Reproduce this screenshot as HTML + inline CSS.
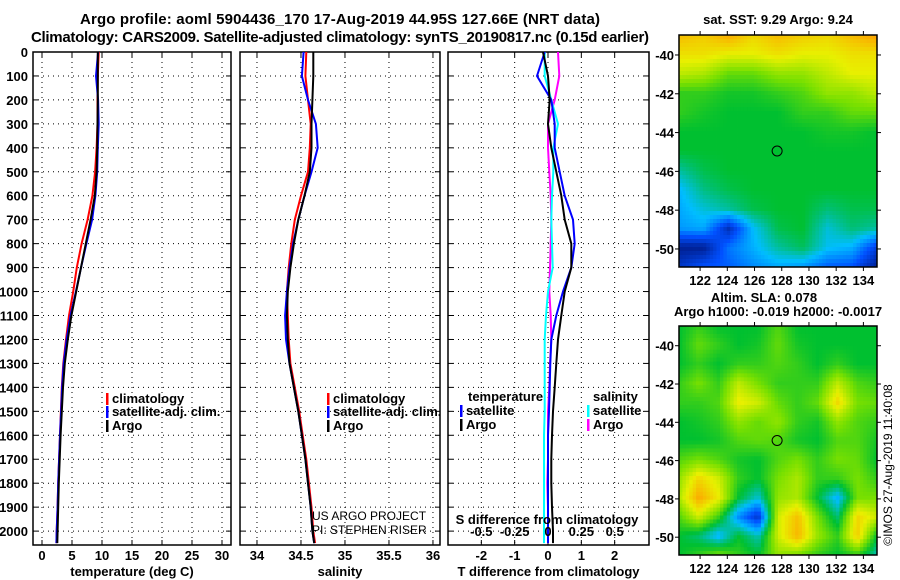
<!DOCTYPE html>
<html><head><meta charset="utf-8">
<style>
body{margin:0;background:#fff;}
svg{display:block;font-family:"Liberation Sans",sans-serif;}
.b{font-weight:bold;font-size:13px;}
</style></head>
<body>
<svg id="s" width="900" height="580" viewBox="0 0 900 580" xmlns="http://www.w3.org/2000/svg">
<rect width="900" height="580" fill="#fff"/>
<text x="340" y="24" text-anchor="middle" class="b" style="font-size:15px" textLength="520">Argo profile: aoml 5904436_170 17-Aug-2019 44.95S 127.66E (NRT data)</text>
<text x="340" y="42" text-anchor="middle" class="b" style="font-size:15px" textLength="618">Climatology: CARS2009. Satellite-adjusted climatology: synTS_20190817.nc (0.15d earlier)</text>
<g id="g"></g>
<text x="778" y="24" text-anchor="middle" class="b">sat. SST: 9.29 Argo: 9.24</text>
<text x="764" y="302" text-anchor="middle" class="b">Altim. SLA: 0.078</text>
<text x="778" y="316" text-anchor="middle" class="b">Argo h1000: -0.019 h2000: -0.0017</text>
<text transform="translate(892,465) rotate(-90)" text-anchor="middle" style="font-size:12px">©IMOS 27-Aug-2019 11:40:08</text>
<text x="312" y="520" style="font-size:12px">US ARGO PROJECT</text>
<text x="312" y="534" style="font-size:12px">PI: STEPHEN RISER</text>
</svg>
<script>
// ---- data ----
const depth=[0,100,200,300,400,500,600,700,800,900,1000,1100,1200,1300,1400,1500,1600,1700,1800,1900,2000,2050];
const tempArgo=[9.3,9.3,9.3,9.25,9.2,9.1,8.8,8.1,7.3,6.5,5.7,4.9,4.3,3.8,3.5,3.3,3.1,2.95,2.8,2.7,2.6,2.55];
const tempClim=[9.45,9.3,9.25,9.25,9.1,8.85,8.4,7.6,6.6,5.8,5.2,4.5,4.0,3.55,3.3,3.15,3.0,2.85,2.7,2.6,2.45,2.4];
const tempSat=[9.35,9.0,9.35,9.45,9.3,9.2,8.9,8.35,7.4,6.5,5.65,4.75,4.1,3.62,3.35,3.18,3.0,2.85,2.7,2.6,2.45,2.4];
const salArgo=[34.64,34.64,34.63,34.62,34.62,34.6,34.54,34.47,34.42,34.38,34.35,34.34,34.35,34.37,34.42,34.47,34.51,34.55,34.58,34.61,34.63,34.65];
const salClim=[34.56,34.55,34.58,34.61,34.6,34.58,34.5,34.43,34.39,34.36,34.34,34.35,34.36,34.38,34.43,34.48,34.52,34.56,34.59,34.62,34.64,34.66];
const salSat=[34.53,34.51,34.58,34.67,34.69,34.62,34.54,34.47,34.41,34.37,34.34,34.32,34.33,34.37,34.42,34.47,34.51,34.55,34.58,34.61,34.63,34.65];
const dTArgo=[-0.15,0.0,0.05,0.0,0.1,0.25,0.4,0.5,0.7,0.7,0.5,0.4,0.3,0.25,0.2,0.15,0.12,0.1,0.1,0.12,0.15,0.15];
const dTSat=[-0.1,-0.33,0.1,0.2,0.2,0.35,0.5,0.75,0.8,0.7,0.45,0.25,0.1,0.07,0.05,0.03,0.0,0.0,0.0,0.0,0.0,0.0];
const dSArgo=[0.075,0.085,0.05,0.0,0.0,0.01,0.02,0.025,0.02,0.015,0.01,0.02,0.025,0.015,0.01,0.0,0.0,0.0,-0.005,0.0,0.0,0.0];
const dSSat=[-0.025,-0.025,0.025,0.075,0.04,0.04,0.03,0.025,0.03,0.035,0.0,-0.015,-0.025,-0.025,-0.025,-0.025,-0.03,-0.03,-0.03,-0.03,-0.03,-0.03];
const depthTicks=[0,100,200,300,400,500,600,700,800,900,1000,1100,1200,1300,1400,1500,1600,1700,1800,1900,2000];
const tempTicks=[0,5,10,15,20,25,30];
const salTicks=[34,34.5,35,35.5,36];
const dTTicks=[-2,-1,0,1,2];
const dSTicks=[-0.5,-0.25,0,0.25,0.5];
const lonTicks=[122,124,126,128,130,132,134];
const latTicks=[-40,-42,-44,-46,-48,-50];
// SST map coarse grid, normalised 0..1 (rows lat -39..-51, cols lon 120.5..135)
const sstGrid=[
[.85,.82,.88,.8,.85,.82,.8,.85,.9],
[.78,.78,.75,.75,.78,.75,.75,.78,.78],
[.7,.68,.6,.6,.65,.65,.7,.75,.75],
[.55,.55,.52,.52,.55,.58,.65,.65,.7],
[.55,.52,.5,.5,.5,.55,.55,.6,.6],
[.5,.5,.5,.5,.5,.5,.52,.52,.5],
[.5,.5,.5,.5,.5,.5,.5,.5,.5],
[.42,.48,.5,.5,.5,.5,.5,.5,.5],
[.34,.44,.48,.5,.5,.5,.5,.5,.5],
[.32,.38,.42,.48,.5,.5,.45,.48,.48],
[.3,.32,.1,.35,.48,.5,.38,.45,.42],
[.05,.05,.25,.33,.42,.47,.36,.33,.15],
[.12,.2,.22,.28,.32,.3,.22,.2,.05]];
// SLA grid (rows lat -39..-51, cols lon 120.5..135.5 step 1.5)
const slaGrid=[
[.5,.55,.5,.5,.5,.58,.5,.5,.5,.5,.5],
[.5,.6,.55,.5,.52,.6,.52,.5,.5,.5,.5],
[.5,.55,.5,.55,.55,.58,.55,.5,.55,.5,.5],
[.55,.62,.55,.7,.62,.55,.55,.55,.7,.58,.55],
[.55,.55,.58,.76,.72,.6,.55,.6,.8,.62,.6],
[.5,.52,.55,.65,.6,.65,.55,.52,.65,.58,.55],
[.5,.5,.52,.58,.6,.58,.52,.5,.58,.58,.52],
[.58,.62,.58,.52,.5,.58,.62,.55,.62,.6,.5],
[.65,.8,.72,.55,.5,.62,.68,.55,.55,.62,.55],
[.68,.88,.76,.5,.38,.65,.68,.5,.33,.62,.62],
[.58,.72,.56,.28,.12,.72,.84,.62,.45,.8,.72],
[.5,.45,.33,.5,.4,.72,.86,.66,.55,.82,.5],
[.5,.55,.62,.55,.5,.65,.62,.55,.5,.55,.4]];

// ---- drawing ----
const NS='http://www.w3.org/2000/svg';
const G=document.getElementById('g');
function mk(tag,attrs,parent){const e=document.createElementNS(NS,tag);for(const k in attrs)e.setAttribute(k,attrs[k]);(parent||G).appendChild(e);return e;}
const TOP=52,BOT=545,D0=0,D1=2058;
function yD(d){return TOP+(d-D0)/(D1-D0)*(BOT-TOP);}
function panel(x0,x1,v0,v1){return v=>x0+(v-v0)/(v1-v0)*(x1-x0);}
const panels=[
 {x0:33,x1:231,v0:-1.5,v1:31.5,ticks:tempTicks,title:'temperature (deg C)',name:'temperature'},
 {x0:240,x1:440,v0:33.807,v1:36.08,ticks:salTicks,title:'salinity',name:'salinity'},
 {x0:448,x1:649,v0:-3,v1:3.03,ticks:dTTicks,title:'T difference from climatology',name:'difference'}];
panels.forEach((p,i)=>{
 const sx=panel(p.x0,p.x1,p.v0,p.v1);p.sx=sx;
 const grp=mk('g',{});
 
 
 depthTicks.forEach(d=>{const l=mk('line',{x1:p.x0,x2:p.x1,y1:yD(d),y2:yD(d),stroke:'#000','stroke-dasharray':'1,4','stroke-width':1},grp);
   
   mk('line',{x1:p.x0,x2:p.x0+5,y1:yD(d),y2:yD(d),stroke:'#000'},grp);
   mk('line',{x1:p.x1-5,x2:p.x1,y1:yD(d),y2:yD(d),stroke:'#000'},grp);
   if(i===0){const t=mk('text',{x:28,y:yD(d)+5,'text-anchor':'end',class:'b'},grp);t.textContent=d;
     }
 });
 p.ticks.forEach(v=>{const x=sx(v);
   const l=mk('line',{x1:x,x2:x,y1:TOP,y2:BOT,stroke:'#000','stroke-dasharray':'1,4'},grp);
   
   mk('line',{x1:x,x2:x,y1:BOT-5,y2:BOT,stroke:'#000'},grp);
   mk('line',{x1:x,x2:x,y1:TOP,y2:TOP+5,stroke:'#000'},grp);
   const t=mk('text',{x:x,y:560,'text-anchor':'middle',class:'b'},grp);t.textContent=v;
   
 });
 const r=mk('rect',{x:p.x0,y:TOP,width:p.x1-p.x0,height:BOT-TOP,fill:'none',stroke:'#000','stroke-width':1.5},grp);
 
 const tt=mk('text',{x:(p.x0+p.x1)/2,y:576,'text-anchor':'middle',class:'b'},grp);tt.textContent=p.title;
 
});
function line(vals,sx,color,name,w){
 const pts=vals.map((v,k)=>sx(v).toFixed(1)+','+yD(depth[k]).toFixed(1)).join(' ');
 const pl=mk('polyline',{points:pts,fill:'none',stroke:color,'stroke-width':w||2});
 
}
const p0=panels[0],p1=panels[1],p2=panels[2];
line(tempClim,p0.sx,'#f00','temp-climatology-line');
line(tempSat,p0.sx,'#00f','temp-satellite-line');
line(tempArgo,p0.sx,'#000','temp-argo-line');
line(salClim,p1.sx,'#f00','sal-climatology-line');
line(salSat,p1.sx,'#00f','sal-satellite-line');
line(salArgo,p1.sx,'#000','sal-argo-line');
const sxS=panel(448,649,-0.75,0.7575);
line(dSArgo,sxS,'#f0f','sdiff-argo-line');
line(dSSat,sxS,'#0ff','sdiff-satellite-line');
line(dTSat,p2.sx,'#00f','tdiff-satellite-line');
line(dTArgo,p2.sx,'#000','tdiff-argo-line');
dSTicks.forEach(v=>{const t=mk('text',{x:sxS(v),y:536,'text-anchor':'middle',class:'b'});t.textContent=v;
 });
const st=mk('text',{x:547,y:524,'text-anchor':'middle',class:'b'});st.textContent='S difference from climatology';

function legend(x,y,color,label){
 const g=mk('g',{});
 
 if(color)mk('rect',{x:x,y:y-10,width:2.5,height:12,fill:color},g);
 const t=mk('text',{x:x+6,y:y,class:'b'},g);t.textContent=label;
}
legend(106,403,'#f00','climatology');legend(106,416,'#00f','satellite-adj. clim.');legend(106,430,'#000','Argo');
legend(327,403,'#f00','climatology');legend(327,416,'#00f','satellite-adj. clim.');legend(327,430,'#000','Argo');
legend(462,401,null,'temperature');legend(460,415,'#00f','satellite');legend(460,429,'#000','Argo');
legend(587,401,null,'salinity');legend(587,415,'#0ff','satellite');legend(587,429,'#f0f','Argo');

// maps
const cmap=[[0,[0,16,112]],[0.2,[0,80,255]],[0.35,[0,190,255]],[0.5,[0,192,48]],[0.62,[120,224,0]],[0.75,[232,240,0]],[0.9,[255,160,0]],[1,[255,100,0]]];
function col(v){v=Math.max(0,Math.min(1,v));for(let i=1;i<cmap.length;i++){if(v<=cmap[i][0]){const a=cmap[i-1],b=cmap[i],t=(v-a[0])/(b[0]-a[0]);return 'rgb('+a[1].map((c,j)=>Math.round(c+(b[1][j]-c)*t)).join(',')+')';}}return 'rgb(255,100,0)';}
function samp(grid,fx,fy){const R=grid.length-1,C=grid[0].length-1;const x=fx*C,y=fy*R;const i=Math.min(R-1,Math.floor(y)),j=Math.min(C-1,Math.floor(x));const a=y-i,b=x-j;
 return grid[i][j]*(1-a)*(1-b)+grid[i][j+1]*(1-a)*b+grid[i+1][j]*a*(1-b)+grid[i+1][j+1]*a*b;}
const MX0=679,MX1=877,LON0=120.45,LON1=135.0,LAT0=-38.97,LAT1=-50.93;
function mapPanel(y0,y1,grid,name,nc,nr){
 const g=mk('g',{});
 
 const cw=(MX1-MX0)/nc,ch=(y1-y0)/nr;
 for(let r=0;r<nr;r++)for(let c=0;c<nc;c++){
  const v=samp(grid,(c+0.5)/nc,(r+0.5)/nr);
  mk('rect',{x:(MX0+c*cw).toFixed(2),y:(y0+r*ch).toFixed(2),width:(cw+0.4).toFixed(2),height:(ch+0.4).toFixed(2),fill:col(v)},g);
 }
 const lx=lon=>MX0+(lon-LON0)/(LON1-LON0)*(MX1-MX0);
 const ly=lat=>y0+(lat-LAT0)/(LAT1-LAT0)*(y1-y0);
 mk('rect',{x:MX0,y:y0,width:MX1-MX0,height:y1-y0,fill:'none',stroke:'#000','stroke-width':1.5},g);
 lonTicks.forEach(l=>{const x=lx(l);mk('line',{x1:x,x2:x,y1:y0-4,y2:y0,stroke:'#000'},g);mk('line',{x1:x,x2:x,y1:y1,y2:y1+4,stroke:'#000'},g);
  const t=mk('text',{x:x,y:y1+18,'text-anchor':'middle',class:'b'},g);t.textContent=l;
  });
 latTicks.forEach(l=>{const y=ly(l);mk('line',{x1:MX0-4,x2:MX0,y1:y,y2:y,stroke:'#000'},g);mk('line',{x1:MX1,x2:MX1+4,y1:y,y2:y,stroke:'#000'},g);
  const t=mk('text',{x:674,y:y+5,'text-anchor':'end',class:'b'},g);t.textContent=l;
  });
 const m=mk('circle',{cx:lx(127.66),cy:ly(-44.95),r:5,fill:'none',stroke:'#000','stroke-width':1},g);
 
}
mapPanel(35,267,sstGrid,'sst-map',58,58);
mapPanel(326,555,slaGrid,'sla-map',58,58);
</script>
</body></html>
